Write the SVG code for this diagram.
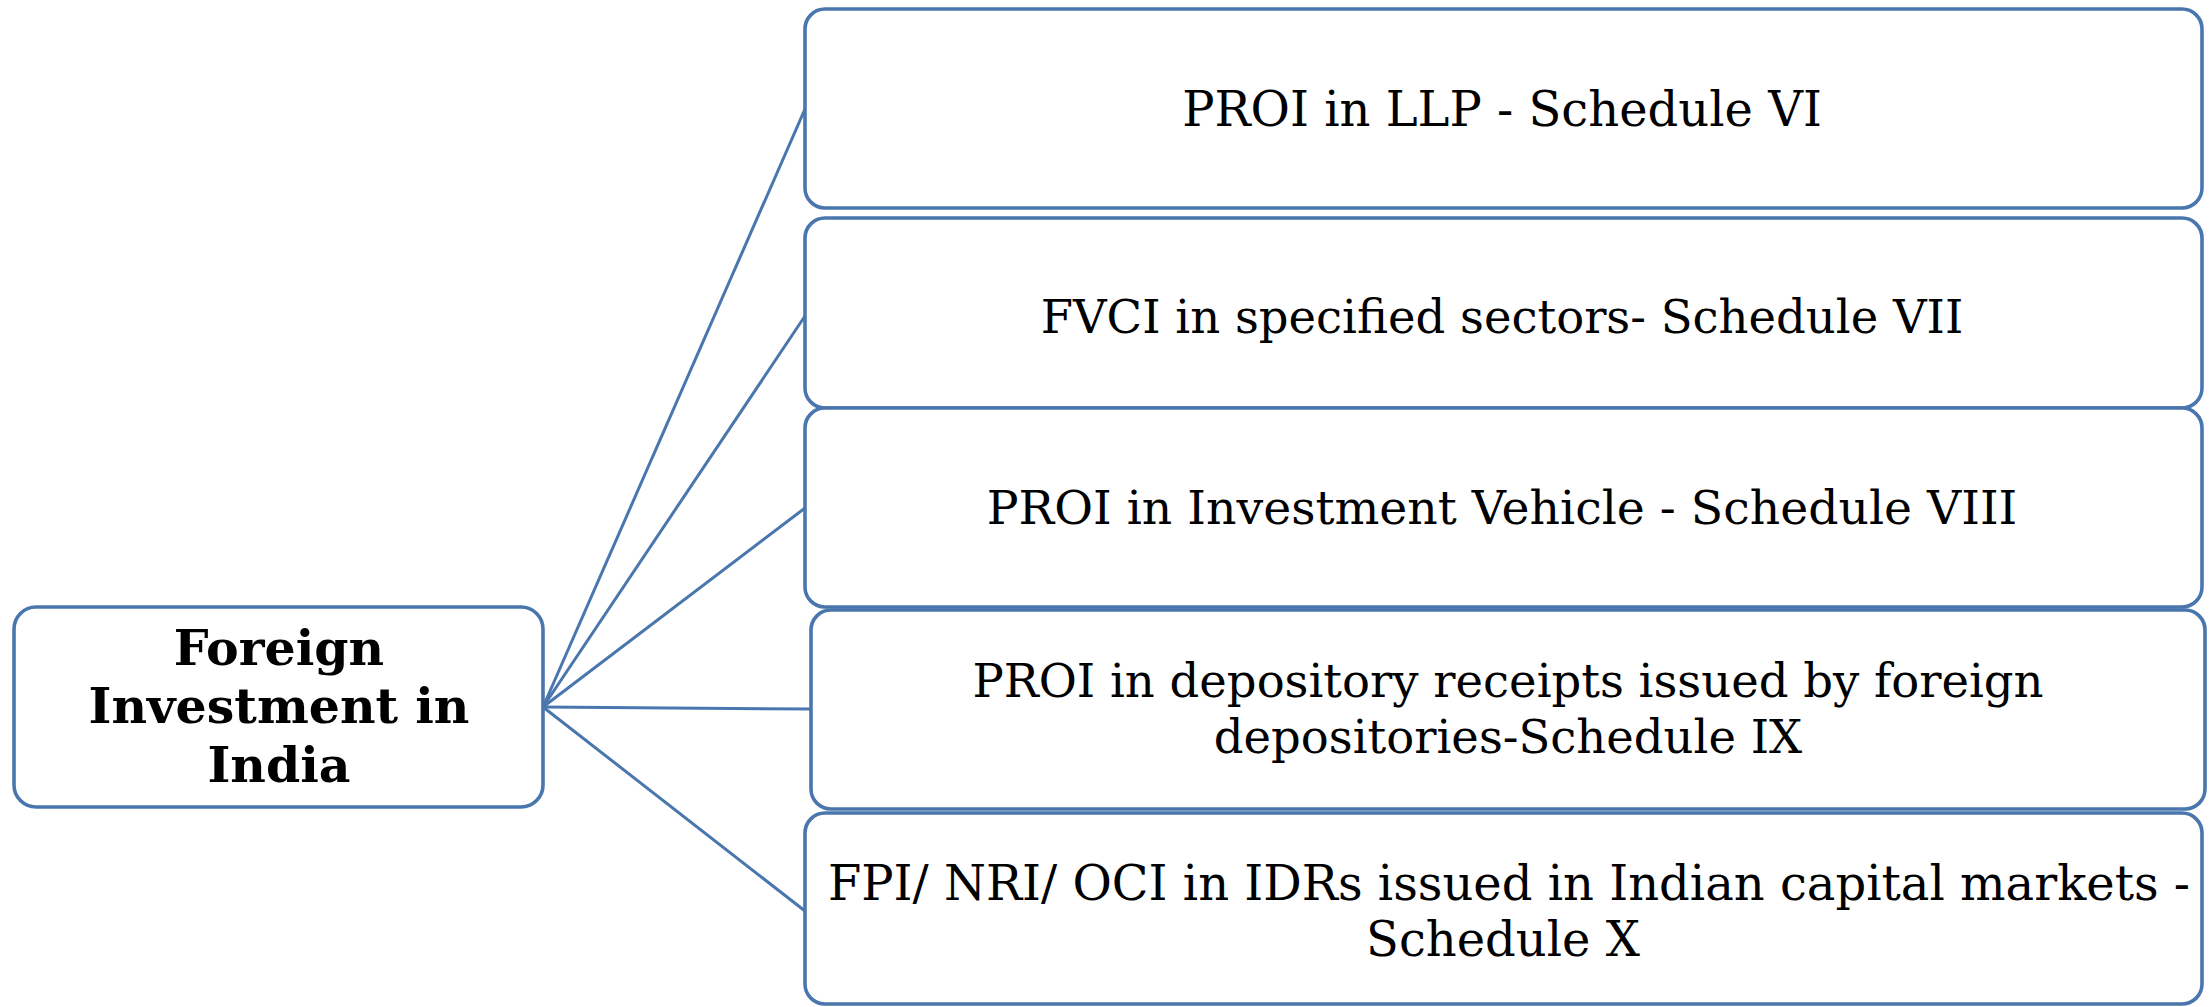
<svg xmlns="http://www.w3.org/2000/svg" width="2209" height="1007" viewBox="0 0 2209 1007">
  <style>
    .box { fill: #ffffff; stroke: #4a76ae; stroke-width: 3.6; }
    .link { fill: none; stroke: #4a76ae; stroke-width: 3; }
    .lbl { font-family: "DejaVu Serif", "Liberation Serif", serif; font-size: 48px; fill: #000000; text-anchor: middle; }
    .lbl.sm { font-size: 46.5px; }
    .root { font-family: "DejaVu Serif", "Liberation Serif", serif; font-size: 49px; font-weight: bold; fill: #000000; text-anchor: middle; }
  </style>

  <!-- connectors from the root node to each schedule -->
  <g id="connectors">
    <line class="link" x1="543" y1="707" x2="805" y2="109"/>
    <line class="link" x1="543" y1="707" x2="805" y2="316"/>
    <line class="link" x1="543" y1="707" x2="805" y2="508"/>
    <line class="link" x1="543" y1="707" x2="811" y2="709"/>
    <line class="link" x1="543" y1="707" x2="805" y2="911"/>
  </g>

  <g id="root-node">
    <rect class="box" x="14" y="607" width="529" height="200" rx="22"/>
    <text class="root" x="279" y="665">Foreign</text>
    <text class="root" x="279" y="723">Investment in</text>
    <text class="root" x="279" y="782">India</text>
  </g>

  <g id="schedule-vi">
    <rect class="box" x="805" y="9" width="1397" height="199" rx="20"/>
    <text class="lbl" x="1502" y="126">PROI in LLP - Schedule VI</text>
  </g>

  <g id="schedule-vii">
    <rect class="box" x="805" y="218" width="1397" height="190" rx="20"/>
    <text class="lbl sm" x="1502" y="333">FVCI in specified sectors- Schedule VII</text>
  </g>

  <g id="schedule-viii">
    <rect class="box" x="805" y="408" width="1397" height="199" rx="20"/>
    <text class="lbl" x="1502" y="524" style="font-size:47.3px">PROI in Investment Vehicle - Schedule VIII</text>
  </g>

  <g id="schedule-ix">
    <rect class="box" x="811" y="610" width="1394" height="199" rx="20"/>
    <text class="lbl sm" x="1508" y="697">PROI in depository receipts issued by foreign</text>
    <text class="lbl sm" x="1508" y="753">depositories-Schedule IX</text>
  </g>

  <g id="schedule-x">
    <rect class="box" x="805" y="813" width="1397" height="191" rx="20"/>
    <text class="lbl" x="1509" y="900">FPI/ NRI/ OCI in IDRs issued in Indian capital markets -</text>
    <text class="lbl" x="1503" y="956">Schedule X</text>
  </g>
</svg>
